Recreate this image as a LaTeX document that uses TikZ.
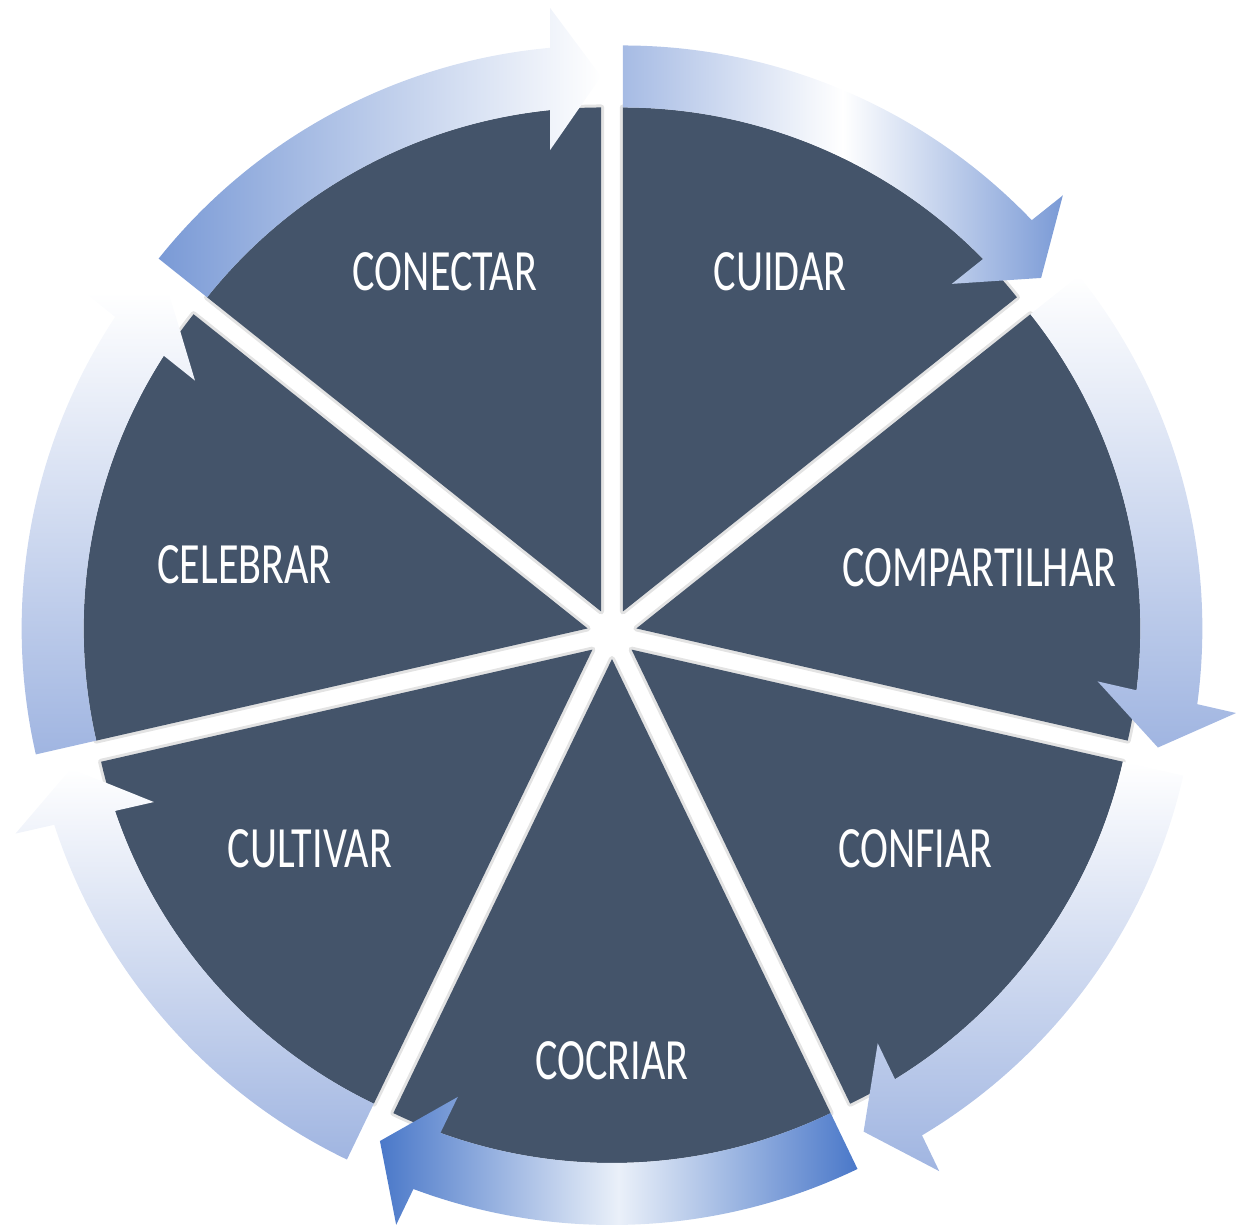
\documentclass[tikz,border=0pt]{standalone}
\usepackage{fontspec}
\newfontfamily\labelfont[FakeStretch=0.72]{Carlito}
\definecolor{slate}{HTML}{44546A}
\definecolor{edgegray}{HTML}{E3E3E3}
\definecolor{pale}{HTML}{A0B5E1}
\definecolor{mid}{HTML}{7A9AD6}
\definecolor{deep}{HTML}{4A78C9}
\definecolor{tailblue}{HTML}{A6BBE4}
\definecolor{glow}{HTML}{EAF0F9}
\begin{document}
\begin{tikzpicture}[x=1pt,y=1pt]
\tikzstyle{every node}=[text=white,inner sep=0pt,font=\labelfont\fontsize{58.5}{60}\selectfont];
\tikzstyle{sector}=[fill=slate,preaction={draw=edgegray,line width=6pt,line join=round}];
\path[use as bounding box] (-612,-593) rectangle (626,634);
% sectors
\fill[sector,shift={(115.71:25)}] (0,0) -- (141.43:504) arc[start angle=141.43,end angle=90,radius=504] -- cycle;
\fill[sector,shift={(64.29:25)}] (0,0) -- (90:504) arc[start angle=90,end angle=38.57,radius=504] -- cycle;
\fill[sector,shift={(12.86:25)}] (0,0) -- (38.57:504) arc[start angle=38.57,end angle=-12.86,radius=504] -- cycle;
\fill[sector,shift={(-38.57:25)}] (0,0) -- (-12.86:504) arc[start angle=-12.86,end angle=-64.29,radius=504] -- cycle;
\fill[sector,shift={(-90:25)}] (0,0) -- (-64.29:504) arc[start angle=-64.29,end angle=-115.71,radius=504] -- cycle;
\fill[sector,shift={(-141.43:25)}] (0,0) -- (-115.71:504) arc[start angle=-115.71,end angle=-167.14,radius=504] -- cycle;
\fill[sector,shift={(167.14:25)}] (0,0) -- (192.86:504) arc[start angle=192.86,end angle=141.43,radius=504] -- cycle;
% arrows
\shade[left color=mid,right color=white,shift={(115.71:25)}]
(141.43:504) -- (141.43:566) arc[start angle=141.43,end angle=95.17,radius=566]
-- (94.83:605.6) -- (90:535) -- (96.31:464.3) -- (95.81:504)
arc[start angle=95.81,end angle=141.43,radius=504] -- cycle;
\shade[left color=tailblue,right color=mid,middle color=white,shift={(64.29:25)}]
(90:504) -- (90:566) arc[start angle=90,end angle=43.74,radius=566]
-- (43.40:605.6) -- (38.57:535) -- (44.88:464.3) -- (44.38:504)
arc[start angle=44.38,end angle=90,radius=504] -- cycle;
\shade[top color=white,bottom color=pale,shift={(12.86:25)}]
(38.57:504) -- (38.57:566) arc[start angle=38.57,end angle=-7.69,radius=566]
-- (-8.03:605.6) -- (-12.86:535) -- (-6.55:464.3) -- (-7.05:504)
arc[start angle=-7.05,end angle=38.57,radius=504] -- cycle;
\shade[top color=white,bottom color=pale,shift={(-38.57:25)}]
(-12.86:504) -- (-12.86:566) arc[start angle=-12.86,end angle=-59.12,radius=566]
-- (-59.46:605.6) -- (-64.29:535) -- (-57.98:464.3) -- (-58.48:504)
arc[start angle=-58.48,end angle=-12.86,radius=504] -- cycle;
\shade[left color=deep,right color=deep,middle color=glow,shift={(-90:25)}]
(-64.29:504) -- (-64.29:566) arc[start angle=-64.29,end angle=-110.54,radius=566]
-- (-110.88:605.6) -- (-115.71:535) -- (-109.40:464.3) -- (-109.90:504)
arc[start angle=-109.90,end angle=-64.29,radius=504] -- cycle;
\shade[top color=white,bottom color=pale,shift={(-141.43:25)}]
(-115.71:504) -- (-115.71:566) arc[start angle=-115.71,end angle=-161.97,radius=566]
-- (-162.31:605.6) -- (-167.14:535) -- (-160.83:464.3) -- (-161.33:504)
arc[start angle=-161.33,end angle=-115.71,radius=504] -- cycle;
\shade[top color=white,bottom color=pale,shift={(167.14:25)}]
(192.86:504) -- (192.86:566) arc[start angle=192.86,end angle=146.60,radius=566]
-- (146.26:605.6) -- (141.43:535) -- (147.74:464.3) -- (147.24:504)
arc[start angle=147.24,end angle=192.86,radius=504] -- cycle;
% labels
\node (1) at (-167,362) {CONECTAR};
\node (2) at (168,362) {CUIDAR};
\node (3) at (367.5,66.5) {COMPARTILHAR};
\node (4) at (303.5,-214.5) {CONFIAR};
\node (5) at (0,-426.5) {COCRIAR};
\node (6) at (-302,-214.5) {CULTIVAR};
\node (7) at (-367.5,69) {CELEBRAR};
\end{tikzpicture}
\end{document}
